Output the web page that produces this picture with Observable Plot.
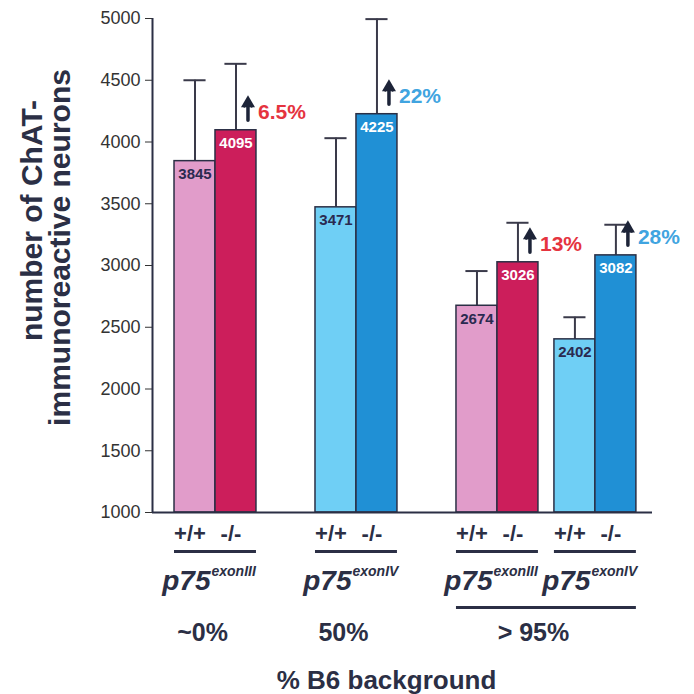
<!DOCTYPE html>
<html><head><meta charset="utf-8">
<script src="https://cdn.jsdelivr.net/npm/d3@7"></script>
<script src="https://cdn.jsdelivr.net/npm/@observablehq/plot@0.6"></script>
<style>body{margin:0;background:#fff}</style>
</head><body><div id="chart"></div>
<script>
// ---- data ----
const genotypes = ["+/+", "-/-", "+/+", "-/-", "+/+", "-/-", "+/+", "-/-"];
const alleles = ["exonIII", "exonIII", "exonIV", "exonIV", "exonIII", "exonIII", "exonIV", "exonIV"];
const backgrounds = ["~0%", "~0%", "50%", "50%", "> 95%", "> 95%", "> 95%", "> 95%"];
const means = [3845, 4095, 3471, 4225, 2674, 3026, 2402, 3082];
const errorTops = [4500, 4633, 4031, 4995, 2955, 3346, 2581, 3330];
const increases = [null, "6.5%", null, "22%", null, "13%", null, "28%"];
const yTicks = [1000, 1500, 2000, 2500, 3000, 3500, 4000, 4500, 5000];
const yLabel = ["number of ChAT-", "immunoreactive neurons"];
const xLabel = "% B6 background";

// ---- styles ----
const FONT = "'Liberation Sans', Arial, Helvetica, sans-serif";
const INK = "#2b2f45";
const fills = {"exonIII+/+": "#e19cca", "exonIII-/-": "#cc1e5b", "exonIV+/+": "#6fcff5", "exonIV-/-": "#2090d5"};
const labelFill = {"+/+": "#2a2a50", "-/-": "#ffffff"};
const incColor = {exonIII: "#e5343f", exonIV: "#40a4e0"};

// ---- layout in bar-width units ----
const START = 0.537, BG_GAP = 1.44, SUB_GAP = 0.39;
let pos = START;
const rows = means.map((m, i) => {
  if (i > 0 && i % 2 === 0) pos += backgrounds[i] !== backgrounds[i - 1] ? BG_GAP : SUB_GAP;
  const r = {i, genotype: genotypes[i], allele: alleles[i], bg: backgrounds[i], mean: m, err: errorTops[i],
    x1: pos, x2: pos + 1, xc: pos + 0.5, inc: increases[i]};
  pos += 1;
  return r;
});
const incRows = rows.filter(r => r.inc);
const groups = d3.groups(rows, r => r.bg + "|" + r.allele).map(([k, rs]) => ({
  allele: rs[0].allele, x1: rs[0].x1, x2: rs[rs.length - 1].x2, xc: (rs[0].x1 + rs[rs.length - 1].x2) / 2
}));
const bgGroups = d3.groups(rows, r => r.bg).map(([k, rs]) => ({
  bg: k, x1: rs[0].x1, x2: rs[rs.length - 1].x2, xc: (rs[0].x1 + rs[rs.length - 1].x2) / 2, n: rs.length
}));
const XMAX = 12.2;

const chart = Plot.plot({
  width: 694, height: 694,
  marginTop: 18, marginBottom: 182, marginLeft: 152, marginRight: 42,
  style: {fontFamily: FONT, fontSize: "18px", color: "#333", background: "#fff"},
  x: {domain: [0, XMAX], axis: null},
  y: {domain: [1000, 5000], ticks: yTicks, tickSize: 7, tickPadding: 5, label: null, tickFormat: d => String(d)},
  marks: [
    // error bars
    Plot.ruleX(rows, {x: "xc", y1: "mean", y2: "err", stroke: "#3a3a4a", strokeWidth: 2}),
    Plot.ruleY(rows, {y: "err", x1: r => r.xc - 0.27, x2: r => r.xc + 0.27, stroke: "#3a3a4a", strokeWidth: 2}),
    // bars
    Plot.rectY(rows, {x1: "x1", x2: "x2", y1: 1000, y2: "mean", fill: r => fills[r.allele + r.genotype], stroke: INK, strokeWidth: 1.5}),
    // value labels
    Plot.text(rows, {x: "xc", y: "mean", dy: 13, text: r => String(r.mean), fill: r => labelFill[r.genotype], fontSize: 15, fontWeight: "bold"}),
    // axes lines
    Plot.ruleX([0], {y1: 1000, y2: 5000, stroke: INK, strokeWidth: 2}),
    Plot.ruleY([1000], {x1: 0, x2: XMAX, stroke: INK, strokeWidth: 2}),
    // increase arrows
    Plot.vector(incRows, {x: "xc", y: "mean", length: 18, rotate: 0, anchor: "start", dx: 12, dy: -10, stroke: "#1d2438", strokeWidth: 3.5}),
    Plot.dot(incRows, {x: "xc", y: "mean", dx: 12, dy: -27, symbol: "triangle", r: 5.2, fill: "#1d2438", stroke: "none"}),
    Plot.text(incRows, {x: "xc", y: "mean", dx: 22, dy: -18, text: "inc", textAnchor: "start", fill: r => incColor[r.allele], fontSize: 21, fontWeight: "bold"}),
    // genotype labels
    Plot.text(rows, {x: "xc", y: 1000, dy: 21, dx: -5, text: "genotype", fill: INK, fontSize: 22, fontWeight: "bold"}),
    Plot.ruleY(groups, {y: 1000, x1: "x1", x2: "x2", dy: 39, stroke: INK, strokeWidth: 3}),
    // allele labels
    Plot.text(groups, {x: "xc", y: 1000, dy: 69, dx: -5, text: () => "p75", textAnchor: "end", fill: INK, fontSize: 28, fontWeight: "bold", fontStyle: "italic"}),
    Plot.text(groups, {x: "xc", y: 1000, dy: 59, dx: -4, text: "allele", textAnchor: "start", fill: INK, fontSize: 14, fontWeight: "bold", fontStyle: "italic"}),
    Plot.ruleY(bgGroups.filter(g => g.n > 2), {y: 1000, x1: "x1", x2: "x2", dy: 95, stroke: INK, strokeWidth: 3}),
    // background labels
    Plot.text(bgGroups, {x: "xc", y: 1000, dy: 120, dx: -13, text: "bg", fill: INK, fontSize: 25, fontWeight: "bold"}),
    Plot.text([xLabel], {frameAnchor: "bottom", textAnchor: "middle", lineAnchor: "middle", dy: 168, dx: -16, text: d => d, fill: INK, fontSize: 26, fontWeight: "bold"}),
    // y label
    Plot.text([yLabel[0]], {frameAnchor: "left", textAnchor: "middle", lineAnchor: "middle", dx: -120, dy: -45, rotate: -90, text: d => d, fill: INK, fontSize: 30, fontWeight: "bold"}),
    Plot.text([yLabel[1]], {frameAnchor: "left", textAnchor: "middle", lineAnchor: "middle", dx: -92, dy: -18, rotate: -90, text: d => d, fill: INK, fontSize: 30, fontWeight: "bold"})
  ]
});
document.getElementById("chart").appendChild(chart);
</script>
</body></html>
